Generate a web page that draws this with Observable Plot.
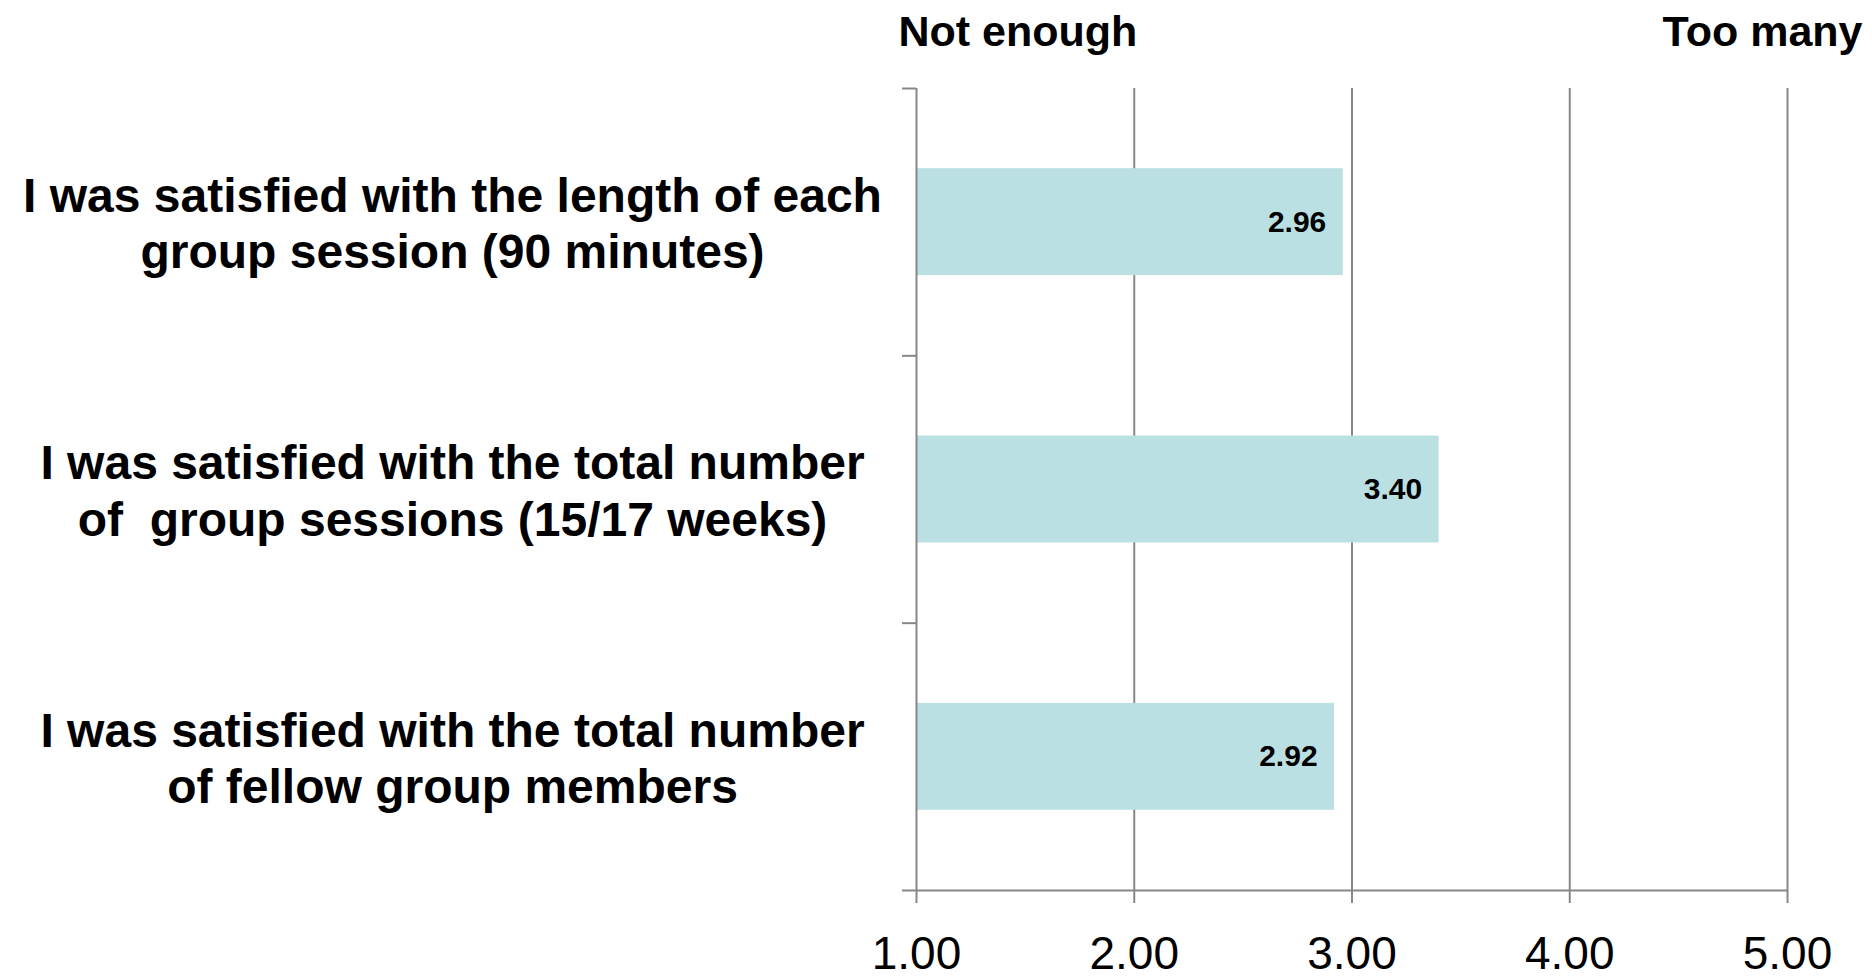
<!DOCTYPE html>
<html>
<head>
<meta charset="utf-8">
<script src="https://cdn.jsdelivr.net/npm/d3@7"></script>
<script src="https://cdn.jsdelivr.net/npm/@observablehq/plot@0.6"></script>
<style>
  html, body { margin: 0; padding: 0; background: #fff; }
  #chart svg { display: block; }
  #chart svg text { white-space: pre; }
</style>
</head>
<body>
<div id="chart"></div>
<script>
// Data
const categories = [
  "I was satisfied with the length of each\ngroup session (90 minutes)",
  "I was satisfied with the total number\nof  group sessions (15/17 weeks)",
  "I was satisfied with the total number\nof fellow group members"
];
const values = [2.96, 3.40, 2.92];
const xTicks = [1, 2, 3, 4, 5];
const endLabels = ["Not enough", "Too many"];
const endValues = [1, 5];

const rows = categories.map((c, i) => ({ category: c, value: values[i], i }));
const ends = endLabels.map((l, i) => ({ label: l, x: endValues[i] }));
const boundaries = d3.range(categories.length + 1);

const grey = "#878787";
const font = "'Liberation Sans', Arial, Helvetica, sans-serif";
const fmt = d3.format(".2f");

const chart = Plot.plot({
  width: 1872,
  height: 979,
  marginLeft: 916,
  marginRight: 85,
  marginTop: 88,
  marginBottom: 89,
  style: { fontFamily: font, background: "#fff", color: "#000", overflow: "visible" },
  x: { domain: [1, 5], axis: null },
  y: { domain: [0, categories.length], reverse: true, axis: null },
  marks: [
    // vertical gridlines
    Plot.ruleX(xTicks.filter(t => t !== 1), { stroke: grey, strokeWidth: 2 }),
    // bars
    Plot.rectX(rows, {
      x1: 1,
      x2: "value",
      y1: d => d.i + 0.3,
      y2: d => d.i + 0.7,
      fill: "#bbe0e3"
    }),
    // vertical axis line at 1.00
    Plot.ruleX([1], { stroke: grey, strokeWidth: 2 }),
    // horizontal axis line
    Plot.ruleY([categories.length], { stroke: grey, strokeWidth: 2 }),
    // category boundary ticks
    Plot.axisY({
      ticks: boundaries,
      tickSize: 14,
      tickFormat: () => "",
      stroke: grey,
      strokeWidth: 2,
      label: null
    }),
    // x axis
    Plot.axisX({
      ticks: xTicks,
      tickSize: 13,
      tickPadding: 33,
      tickFormat: fmt,
      fontSize: 46,
      stroke: grey,
      strokeWidth: 2,
      fill: "#000",
      label: null
    }),
    // value labels
    Plot.text(rows, {
      x: "value",
      y: d => d.i + 0.5,
      text: d => fmt(d.value),
      textAnchor: "end",
      dx: -17,
      fontSize: 30,
      fontWeight: "bold",
      fill: "#000"
    }),
    // category labels
    Plot.text(rows, {
      y: d => d.i + 0.5,
      text: "category",
      frameAnchor: "left",
      textAnchor: "middle",
      lineAnchor: "middle",
      lineHeight: 1.17,
      dx: -464,
      fontSize: 48,
      fontWeight: "bold",
      fill: "#000"
    }),
    // end labels
    Plot.text(ends.slice(0, 1), {
      x: "x",
      text: "label",
      frameAnchor: "top",
      textAnchor: "start",
      lineAnchor: "middle",
      dx: -18,
      dy: -56,
      fontSize: 43,
      fontWeight: "bold",
      fill: "#000"
    }),
    Plot.text(ends.slice(1), {
      x: "x",
      text: "label",
      frameAnchor: "top",
      textAnchor: "end",
      lineAnchor: "middle",
      dx: 75,
      dy: -56,
      fontSize: 43,
      fontWeight: "bold",
      fill: "#000"
    })
  ]
});

document.getElementById("chart").appendChild(chart);
</script>
</body>
</html>
